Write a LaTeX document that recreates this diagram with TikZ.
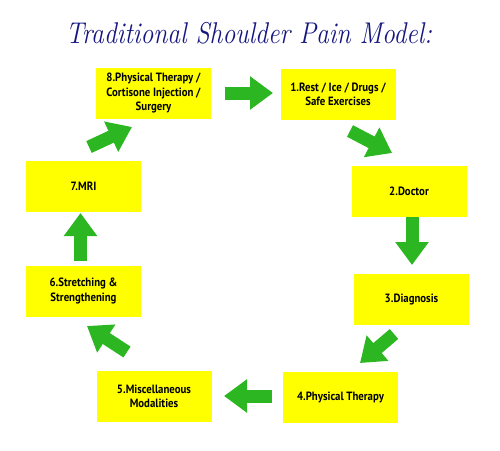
\documentclass[tikz,border=0pt]{standalone}
\usepackage{fontspec}
\setsansfont{PT Sans}
\newfontfamily\boxfont[FakeStretch=0.9]{PT Sans}
\usetikzlibrary{arrows.meta}
\definecolor{boxyellow}{RGB}{255,255,0}
\definecolor{arrowgreen}{RGB}{44,182,34}
\definecolor{titleblue}{RGB}{22,22,128}
\begin{document}
\begin{tikzpicture}[x=1pt,y=-1pt,
  stepbox/.style={fill=boxyellow,draw=none,minimum width=115pt,minimum height=51pt,
    align=center,inner sep=2pt,font=\boxfont\bfseries\fontsize{12}{14.5}\selectfont},
  bigarrow/.style={draw=arrowgreen,line width=13pt,
    -{Triangle[length=23pt,width=32pt,fill=arrowgreen]}}]
\useasboundingbox (0,0) rectangle (500,450);
\node[anchor=base,text=titleblue,font=\itshape\fontsize{30}{30}\selectfont] (title) at (249,43) {\scalebox{0.854}[1.0]{Traditional Shoulder Pain Model:}};
\node[stepbox] (b8) at (153.5,93) {8.Physical Therapy /\\Cortisone Injection /\\Surgery};
\node[stepbox] (b1) at (338,94.5) {1.Rest / Ice / Drugs /\\Safe Exercises};
\node[stepbox] (b2) at (409,191.5) {2.Doctor};
\node[stepbox] (b3) at (411.5,299.5) {3.Diagnosis};
\node[stepbox] (b4) at (340.5,397) {4.Physical Therapy};
\node[stepbox] (b5) at (154,396.5) {5.Miscellaneous\\Modalities};
\node[stepbox] (b6) at (83.5,291) {6.Stretching \&\\Strengthening};
\node[stepbox] (b7) at (83.5,186) {7.MRI};
\coordinate (a81s) at (225,93);   \coordinate (a81e) at (273,93);
\coordinate (a12s) at (350,131);  \coordinate (a12e) at (392,153);
\coordinate (a23s) at (412,217);  \coordinate (a23e) at (412,265);
\coordinate (a34s) at (394,334);  \coordinate (a34e) at (360,363);
\coordinate (a45s) at (272,396);  \coordinate (a45e) at (224,396);
\coordinate (a56s) at (127,352);  \coordinate (a56e) at (87,326);
\coordinate (a67s) at (80.5,261); \coordinate (a67e) at (80.5,213);
\coordinate (a78s) at (89,147);   \coordinate (a78e) at (132,127);
\draw[bigarrow] (a81s) -- (a81e);
\draw[bigarrow] (a12s) -- (a12e);
\draw[bigarrow] (a23s) -- (a23e);
\draw[bigarrow] (a34s) -- (a34e);
\draw[bigarrow] (a45s) -- (a45e);
\draw[bigarrow] (a56s) -- (a56e);
\draw[bigarrow] (a67s) -- (a67e);
\draw[bigarrow] (a78s) -- (a78e);
\end{tikzpicture}
\end{document}
